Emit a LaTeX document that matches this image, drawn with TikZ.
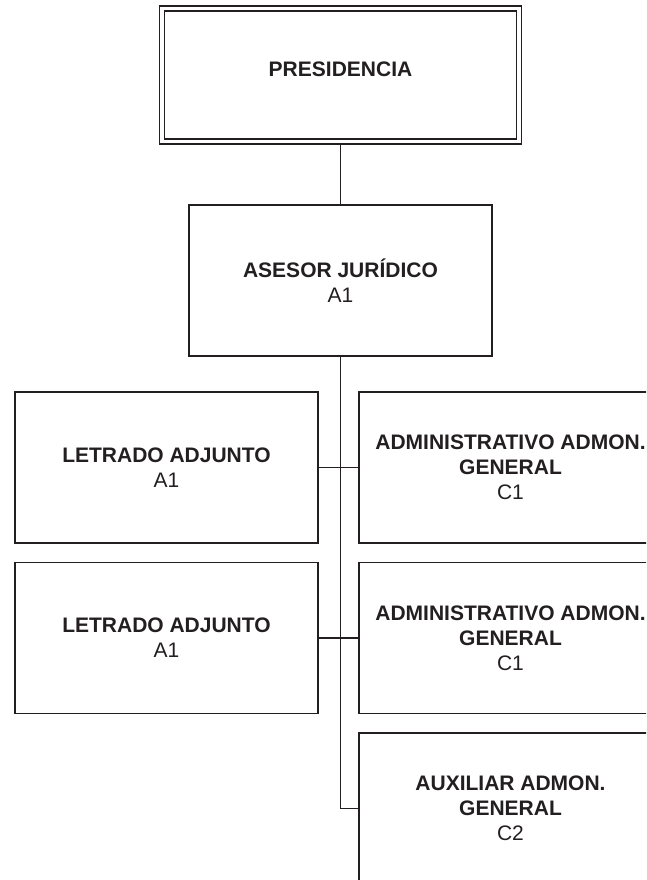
\documentclass[tikz,border=0pt]{standalone}
\usepackage{fontspec}
\setmainfont{Liberation Sans}
\definecolor{ink}{HTML}{231F20}
\begin{document}
\begin{tikzpicture}[x=1pt,y=-1pt,
  box/.style={draw=ink, line width=1.5pt, rectangle, inner sep=0pt, outer sep=0pt,
    minimum width=303pt, minimum height=151pt, align=center, text=ink,
    font=\fontsize{21}{25}\selectfont},
  link/.style={draw=ink, line width=1.5pt}]
\useasboundingbox (0,0) rectangle (646,880);
\clip (0,0) rectangle (646,880);
\node[draw=ink, double, double distance=3.6pt, line width=1.4pt, minimum width=357pt,
  minimum height=133pt, inner sep=0pt, outer sep=3.2pt] (pres) at (340.5,75) {};
\node[text=ink, font=\fontsize{21}{25}\selectfont\bfseries] (prestext) at (340.5,69) {PRESIDENCIA};
\node[box] (asesor) at (340.5,280.5) {\textbf{ASESOR JURÍDICO}\\A1};
\node[box] (letrado1) at (166.5,467.5) {\textbf{LETRADO ADJUNTO}\\A1};
\node[box] (letrado2) at (166.5,638) {\textbf{LETRADO ADJUNTO}\\A1};
\node[box] (admin1) at (510.5,467.5) {\textbf{ADMINISTRATIVO ADMON.}\\\textbf{GENERAL}\\C1};
\node[box] (admin2) at (510.5,638) {\textbf{ADMINISTRATIVO ADMON.}\\\textbf{GENERAL}\\C1};
\node[box] (aux) at (510.5,808.5) {\textbf{AUXILIAR ADMON.}\\\textbf{GENERAL}\\C2};
\draw[link] (pres.south) -- (asesor.north);
\draw[link] (asesor.south) |- (aux.west);
\draw[link] (letrado1.east) -- (admin1.west);
\draw[link] (letrado2.east) -- (admin2.west);
\end{tikzpicture}
\end{document}
